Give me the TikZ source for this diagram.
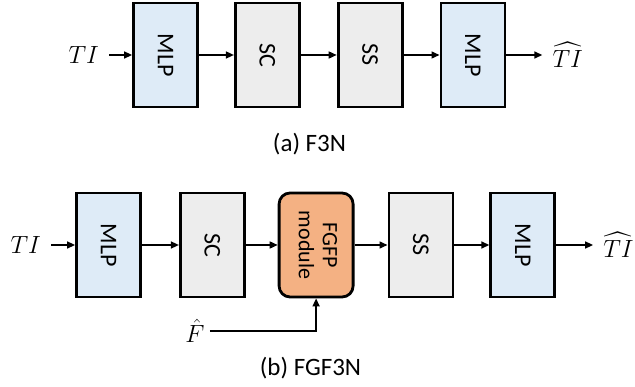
\documentclass[tikz,border=0pt]{standalone}
\usepackage{amsmath,amssymb}
\usepackage{graphicx}
\usepackage{xcolor}
\usepackage{fontspec}
\setmainfont{Carlito}
\usepackage{tikz}
\usetikzlibrary{positioning,arrows.meta}

\definecolor{mlpblue}{HTML}{DEEBF7}
\definecolor{blockgray}{HTML}{EDEDED}
\definecolor{fgfporange}{HTML}{F4B183}

\newcommand{\vlabel}[1]{\rotatebox{-90}{#1}}

\begin{document}
\begin{tikzpicture}[x=1pt, y=-1pt,
    every node/.style={font=\fontsize{24}{28}\selectfont},
    blk/.style={draw, line width=2.8pt, minimum width=64pt, minimum height=104pt, inner sep=0pt},
    mlpblk/.style={blk, fill=mlpblue},
    grayblk/.style={blk, fill=blockgray},
    io/.style={inner xsep=10pt, inner ysep=0pt, font=\fontsize{27}{32}\selectfont},
    captext/.style={font=\fontsize{25}{30}\selectfont},
    arr/.style={-{Triangle[length=8pt,width=7pt]}, line width=1.5pt}]
  \useasboundingbox (0,0) rectangle (635,387);

  % (a) F3N
  \node[mlpblk] (a1) at (165.5,55) {\vlabel{MLP}};
  \node[grayblk, right=35pt of a1] (a2) {\vlabel{SC}};
  \node[grayblk, right=36pt of a2] (a3) {\vlabel{SS}};
  \node[mlpblk,  right=36pt of a3] (a4) {\vlabel{MLP}};
  \node[io, left=23pt of a1]  (aIn)  {$TI$};
  \node[io, right=36pt of a4] (aOut) {$\widehat{TI}$};
  \draw[arr] (aIn) -- (a1);
  \draw[arr] (a1)  -- (a2);
  \draw[arr] (a2)  -- (a3);
  \draw[arr] (a3)  -- (a4);
  \draw[arr] (a4)  -- (aOut);
  \node[captext] (capA) at (309.5,144) {(a) F3N};

  % (b) FGF3N
  \node[mlpblk] (b1) at (108.5,245) {\vlabel{MLP}};
  \node[grayblk, right=37pt of b1] (b2) {\vlabel{SC}};
  \node[draw, line width=2.8pt, rounded corners=11pt, fill=fgfporange,
        minimum width=74pt, minimum height=104pt, inner sep=0pt,
        right=32pt of b2] (b3)
      {\vlabel{\fontsize{22}{26}\selectfont\begin{tabular}{@{}c@{}}FGFP\\[-2pt]module\end{tabular}}};
  \node[grayblk, right=33pt of b3] (b4) {\vlabel{SS}};
  \node[mlpblk,  right=35pt of b4] (b5) {\vlabel{MLP}};
  \node[io, left=24pt of b1]  (bIn)  {$TI$};
  \node[io, right=37pt of b5] (bOut) {$\widehat{TI}$};
  \node[io, inner xsep=5pt] (fHat) at (195,331) {$\hat{F}$};
  \draw[arr] (bIn) -- (b1);
  \draw[arr] (b1)  -- (b2);
  \draw[arr] (b2)  -- (b3);
  \draw[arr] (b3)  -- (b4);
  \draw[arr] (b4)  -- (b5);
  \draw[arr] (b5)  -- (bOut);
  \draw[arr] (fHat) -| (b3);
  \node[captext] (capB) at (310.5,368) {(b) FGF3N};
\end{tikzpicture}
\end{document}
